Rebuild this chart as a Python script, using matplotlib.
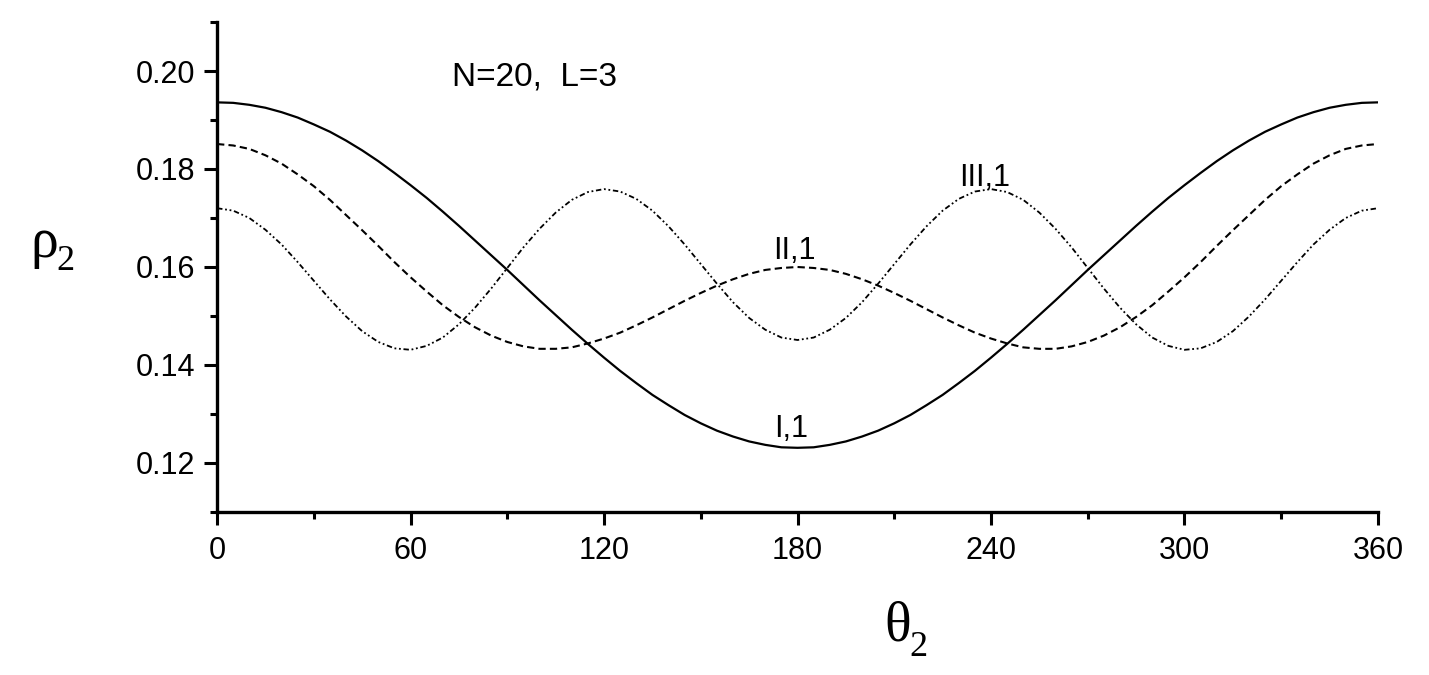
import matplotlib
matplotlib.use("Agg")
import matplotlib.pyplot as plt
from matplotlib.ticker import MultipleLocator

plt.rcParams['font.family'] = ['Liberation Sans', 'DejaVu Sans']
plt.rcParams['mathtext.fontset'] = 'stix'

# angle grid (degrees), 5 degree steps
theta = list(range(0, 361, 5))

# curve I,1 (solid), 0..180 then mirrored
rho_I_half = [0.1936, 0.1935, 0.1931, 0.1925, 0.1916, 0.1905, 0.1891, 0.1876,
              0.1858, 0.1838, 0.1816, 0.1792, 0.1767, 0.1741, 0.1713, 0.1684,
              0.1654, 0.1624, 0.1594, 0.1563, 0.1532, 0.1502, 0.1472, 0.1443,
              0.1415, 0.1388, 0.1363, 0.1339, 0.1318, 0.1298, 0.1281, 0.1266,
              0.1254, 0.1244, 0.1237, 0.1232, 0.1231]
rho_I = rho_I_half + rho_I_half[-2::-1]

# curve II,1 (dashed)
rho_II_half = [0.1851, 0.1848, 0.1841, 0.1828, 0.1811, 0.1789, 0.1765, 0.1737,
               0.1706, 0.1675, 0.1643, 0.1610, 0.1579, 0.1550, 0.1522, 0.1498,
               0.1477, 0.1460, 0.1447, 0.1438, 0.1433, 0.1433, 0.1436, 0.1444,
               0.1454, 0.1466, 0.1481, 0.1497, 0.1514, 0.1531, 0.1547, 0.1562,
               0.1575, 0.1586, 0.1594, 0.1598, 0.1600]
rho_II = rho_II_half + rho_II_half[-2::-1]

# curve III,1 (dash-dot)
rho_III_half = [0.1720, 0.1715, 0.1700, 0.1676, 0.1646, 0.1610, 0.1572, 0.1534,
                0.1499, 0.1469, 0.1447, 0.1434, 0.1431, 0.1439, 0.1456, 0.1483,
                0.1517, 0.1556, 0.1598, 0.1640, 0.1678, 0.1711, 0.1737, 0.1753,
                0.1759, 0.1754, 0.1739, 0.1715, 0.1683, 0.1646, 0.1606, 0.1566,
                0.1528, 0.1496, 0.1472, 0.1456, 0.1451]
rho_III = rho_III_half + rho_III_half[-2::-1]

fig = plt.figure(figsize=(14.29, 6.75), dpi=100)
ax = fig.add_axes([0.1519, 0.2415, 0.8124, 0.7259])

ax.plot(theta, rho_I, color='black', lw=1.6, ls='-')
ax.plot(theta, rho_II, color='black', lw=1.5, ls=(0, (3.5, 2)))
ax.plot(theta, rho_III, color='black', lw=1.3, ls=(0, (3, 1.5, 1, 1.5, 1, 1.5)))

ax.set_xlim(0, 360)
ax.set_ylim(0.11, 0.21)
ax.xaxis.set_major_locator(MultipleLocator(60))
ax.xaxis.set_minor_locator(MultipleLocator(30))
ax.yaxis.set_major_locator(MultipleLocator(0.02))
ax.yaxis.set_minor_locator(MultipleLocator(0.01))
ax.yaxis.set_major_formatter(plt.FormatStrFormatter('%.2f'))

for side in ['top', 'right']:
    ax.spines[side].set_visible(False)
for side in ['left', 'bottom']:
    ax.spines[side].set_linewidth(2.4)

ax.tick_params(which='major', direction='out', length=9.5, width=2.2,
               labelsize=22, pad=6)
ax.tick_params(which='minor', direction='out', length=5, width=2.2)
ax.tick_params(axis='x', which='major', pad=8)

ax.text(73, 0.1988, 'N=20,  L=3', fontsize=24, ha='left', va='center')
ax.text(178, 0.1270, 'I,1', fontsize=22, ha='center', va='center')
ax.text(179, 0.1632, 'II,1', fontsize=22, ha='center', va='center')
ax.text(238, 0.1781, 'III,1', fontsize=22, ha='center', va='center')

# axis labels: greek letter plus larger subscript digit
serif = ['Liberation Serif', 'DejaVu Serif']
fig.text(0.031, 0.640, '\u03c1', fontsize=40, family=serif, ha='center', va='center')
fig.text(0.046, 0.612, '2', fontsize=26, family=serif, ha='center', va='center')
fig.text(0.628, 0.072, '\u03b8', fontsize=40, family=serif, ha='center', va='center')
fig.text(0.643, 0.040, '2', fontsize=26, family=serif, ha='center', va='center')

fig.savefig('out.png', dpi=100)
